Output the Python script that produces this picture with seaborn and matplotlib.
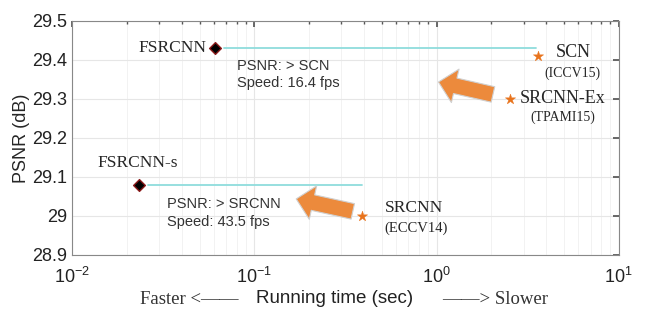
import matplotlib
matplotlib.use("Agg")
import matplotlib.pyplot as plt
import matplotlib.ticker as mticker
import seaborn as sns
import pandas as pd
import numpy as np

# ---- data ----
methods = ["FSRCNN", "FSRCNN-s", "SCN", "SRCNN-Ex", "SRCNN"]
venues = ["", "", "(ICCV15)", "(TPAMI15)", "(ECCV14)"]
run_time = [0.061, 0.0233, 3.6, 2.52, 0.392]
psnr = [29.43, 29.08, 29.41, 29.30, 29.00]
kind = ["ours", "ours", "other", "other", "other"]

df = pd.DataFrame({"method": methods, "time": run_time, "psnr": psnr, "kind": kind})

sns.set_theme(style="white")
plt.rcParams["font.family"] = ["Liberation Sans", "DejaVu Sans"]

fig = plt.figure(figsize=(6.5, 3.23), dpi=100)
ax = fig.add_axes([0.111, 0.211, 0.841, 0.724])

ax.set_xscale("log")
ax.set_xlim(1e-2, 1e1)
ax.set_ylim(28.9, 29.5)

# grid
ax.grid(True, which="major", color="#e6e6e6", lw=0.8)
ax.grid(True, which="minor", axis="x", color="#f0f0f0", lw=0.6)
ax.set_axisbelow(True)

# cyan comparison lines
ax.plot([run_time[0] * 1.12, run_time[2] * 0.97], [psnr[0], psnr[0]], color="#8fdcdc", lw=1.3, zorder=2)
ax.plot([run_time[1] * 1.12, run_time[4]], [psnr[1], psnr[1]], color="#8fdcdc", lw=1.3, zorder=2)

# orange arrows
def big_arrow(x0, y0, x1, y1):
    ax.annotate("", xy=(x1, y1), xytext=(x0, y0),
                arrowprops=dict(arrowstyle="simple,head_length=0.65,head_width=1.3,tail_width=0.6",
                                fc="#ec8a3c", ec="#d0d0d0", lw=0.8, mutation_scale=19),
                zorder=4)

big_arrow(2.11, 29.31, 0.99, 29.345)
big_arrow(0.359, 29.01, 0.164, 29.045)

# markers
sns.scatterplot(data=df[df.kind == "ours"], x="time", y="psnr", marker="D", s=36,
                color="black", edgecolor="#8b1a1a", linewidth=1.0, ax=ax, zorder=5, legend=False)
sns.scatterplot(data=df[df.kind == "other"], x="time", y="psnr", marker="*", s=60,
                color="#e8731c", edgecolor="#e8731c", linewidth=0.3, ax=ax, zorder=5, legend=False)

serif = ["Liberation Serif", "DejaVu Serif"]
# method labels
ax.text(run_time[0] / 1.12, psnr[0], "FSRCNN", family=serif, fontsize=12.5, ha="right", va="center")
ax.text(0.0228, 29.135, "FSRCNN-s", family=serif, fontsize=12.5, ha="center", va="center")
ax.text(5.6, 29.42, "SCN", family=serif, fontsize=13, ha="center", va="center")
ax.text(5.6, 29.365, "(ICCV15)", family=serif, fontsize=10, ha="center", va="center")
ax.text(4.9, 29.30, "SRCNN-Ex", family=serif, fontsize=13, ha="center", va="center")
ax.text(4.9, 29.253, "(TPAMI15)", family=serif, fontsize=10, ha="center", va="center")
ax.text(0.52, 29.02, "SRCNN", family=serif, fontsize=12.5, ha="left", va="center")
ax.text(0.52, 28.968, "(ECCV14)", family=serif, fontsize=10.5, ha="left", va="center")

# speed annotations
ax.text(0.080, 29.385, "PSNR: > SCN", fontsize=10.5, color="#333333", ha="left", va="center")
ax.text(0.080, 29.34, "Speed: 16.4 fps", fontsize=10.5, color="#333333", ha="left", va="center")
ax.text(0.033, 29.03, "PSNR: > SRCNN", fontsize=10.5, color="#333333", ha="left", va="center")
ax.text(0.033, 28.985, "Speed: 43.5 fps", fontsize=10.5, color="#333333", ha="left", va="center")

# axes styling
ax.set_xlabel("")
ax.set_ylabel("PSNR (dB)", fontsize=13, labelpad=2)
ax.yaxis.set_major_locator(mticker.MultipleLocator(0.1))
ax.yaxis.set_major_formatter(mticker.FuncFormatter(lambda v, p: f"{v:g}"))
ax.tick_params(axis="both", which="both", direction="in", top=True, right=True,
               colors="#555555", labelcolor="#222222")
ax.tick_params(axis="both", which="major", labelsize=13, length=4)
ax.tick_params(axis="x", which="major", pad=9)
ax.tick_params(axis="x", which="minor", length=2)
for s in ax.spines.values():
    s.set_color("#888888")
    s.set_linewidth(0.8)

fig.text(0.515, 0.075, "Running time (sec)", fontsize=13.5, ha="center", va="center", color="#222222")
fig.text(0.215, 0.072, "Faster <\u2014\u2014", family=serif, fontsize=13.5, ha="left", va="center", color="#333333")
fig.text(0.68, 0.072, "\u2014\u2014> Slower", family=serif, fontsize=13.5, ha="left", va="center", color="#333333")

fig.savefig("out.png", dpi=100)
